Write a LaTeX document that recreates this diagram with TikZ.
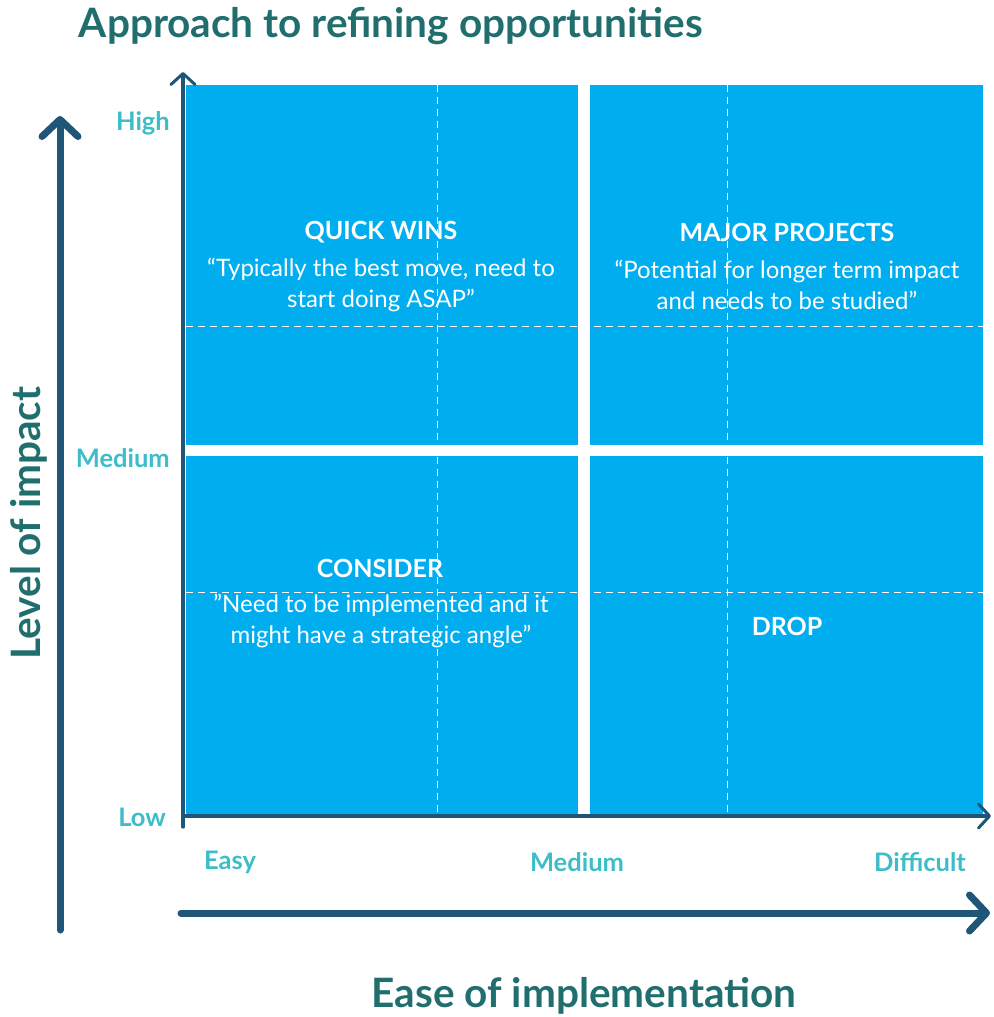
\documentclass[tikz,border=0pt]{standalone}
\usepackage{fontspec}
\setmainfont{Lato}
\usetikzlibrary{arrows.meta}
\definecolor{boxblue}{HTML}{00AEEF}
\definecolor{axisblue}{HTML}{1F5577}
\definecolor{titleteal}{HTML}{216E6E}
\definecolor{labelteal}{HTML}{3CBDC8}
\tikzset{
  quad/.style={fill=boxblue, draw=none},
  grid/.style={draw=white, line width=0.9pt, dash pattern=on 7pt off 5pt},
  inneraxis/.style={draw=axisblue, line width=3.2pt, line cap=round,
    -{Straight Barb[length=11pt, width=24pt, line width=3pt, round]}},
  outeraxis/.style={draw=axisblue, line width=7pt, line cap=round,
    -{Straight Barb[length=17pt, width=36pt, line width=7pt, round]}},
  ttl/.style={font=\bfseries\fontsize{40.5}{44}\selectfont, text=titleteal, inner sep=0pt},
  axlab/.style={font=\bfseries\fontsize{25.5}{28}\selectfont, text=labelteal, inner sep=0pt},
  head/.style={font=\bfseries\fontsize{25}{28}\selectfont, text=white, inner sep=0pt},
  body/.style={font=\fontsize{24}{31.5}\selectfont, text=white, inner sep=0pt, align=center},
}
\begin{document}
\begin{tikzpicture}[x=1pt,y=-1pt]
\useasboundingbox (0,0) rectangle (993,1017);
% quadrants
\fill[quad] (186,85) rectangle (578,445);
\fill[quad] (590,85) rectangle (983,445);
\fill[quad] (186,456) rectangle (578,815);
\fill[quad] (590,456) rectangle (983,815);
% texts in quadrants
\node[head] (qw) at (381,232) {QUICK WINS};
\node[body] (qwt) at (381,285) {“Typically the best move, need to\\start doing ASAP”};
\node[head] (mp) at (787,232) {MAJOR PROJECTS};
\node[body] (mpt) at (787,285) {“Potential for longer term impact\\and needs to be studied”};
\node[head] (cs) at (380,568) {CONSIDER};
\node[body] (cst) at (381,621) {”Need to be implemented and it\\might have a strategic angle”};
\node[head] (dr) at (787,626) {DROP};
% dashed grid
\draw[grid] (437,85) -- (437,815);
\draw[grid] (727,85) -- (727,815);
\draw[grid] (186,326) -- (983,326);
\draw[grid] (186,592) -- (983,592);
% inner axes
\coordinate (o) at (183,827);
\coordinate (ytop) at (183,72);
\coordinate (xo) at (183,816);
\coordinate (xend) at (991,816);
\draw[inneraxis] (o) -- (ytop);
\draw[inneraxis] (xo) -- (xend);
% outer axes
\coordinate (oy0) at (60,930);
\coordinate (oy1) at (60,116);
\coordinate (ox0) at (181,913);
\coordinate (ox1) at (990,913);
\draw[outeraxis] (oy0) -- (oy1);
\draw[outeraxis] (ox0) -- (ox1);
% axis labels
\node[axlab, anchor=east] (hi) at (170,123) {High};
\node[axlab, anchor=east] (me) at (170,458) {Medium};
\node[axlab, anchor=east] (lo) at (166,817) {Low};
\node[axlab] (ea) at (230,862) {Easy};
\node[axlab] (mx) at (577,862) {Medium};
\node[axlab] (di) at (920,862) {Difficult};
% titles
\node[ttl] (title) at (391,26) {Approach to refining opportunities};
\node[ttl] (xt) at (584,996) {Ease of implementation};
\node[ttl, rotate=90] (yt) at (29,523) {Level of impact};
\end{tikzpicture}
\end{document}
